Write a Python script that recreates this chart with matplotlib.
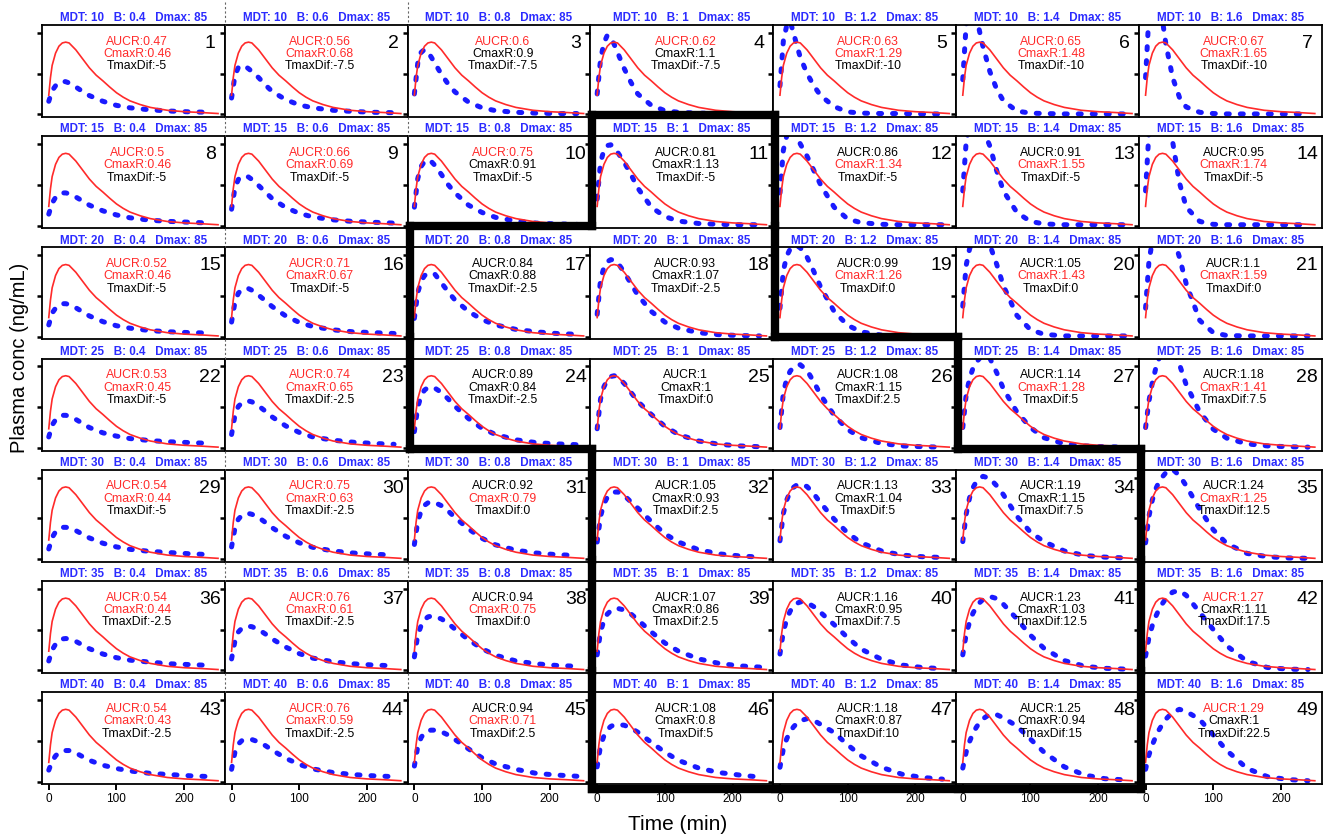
import matplotlib
matplotlib.use('Agg')
import matplotlib.pyplot as plt
from matplotlib.lines import Line2D

plt.rcParams['font.family'] = ['Liberation Sans', 'DejaVu Sans']

# rows = MDT, columns = Weibull shape B
mdt = [10, 15, 20, 25, 30, 35, 40]
b_shape = [0.4, 0.6, 0.8, 1, 1.2, 1.4, 1.6]
dmax = 85

aucr = [0.47, 0.56, 0.6, 0.62, 0.63, 0.65, 0.67,
        0.5, 0.66, 0.75, 0.81, 0.86, 0.91, 0.95,
        0.52, 0.71, 0.84, 0.93, 0.99, 1.05, 1.1,
        0.53, 0.74, 0.89, 1, 1.08, 1.14, 1.18,
        0.54, 0.75, 0.92, 1.05, 1.13, 1.19, 1.24,
        0.54, 0.76, 0.94, 1.07, 1.16, 1.23, 1.27,
        0.54, 0.76, 0.94, 1.08, 1.18, 1.25, 1.29]
cmaxr = [0.46, 0.68, 0.9, 1.1, 1.29, 1.48, 1.65,
         0.46, 0.69, 0.91, 1.13, 1.34, 1.55, 1.74,
         0.46, 0.67, 0.88, 1.07, 1.26, 1.43, 1.59,
         0.45, 0.65, 0.84, 1, 1.15, 1.28, 1.41,
         0.44, 0.63, 0.79, 0.93, 1.04, 1.15, 1.25,
         0.44, 0.61, 0.75, 0.86, 0.95, 1.03, 1.11,
         0.43, 0.59, 0.71, 0.8, 0.87, 0.94, 1]
tmaxdif = [-5, -7.5, -7.5, -7.5, -10, -10, -10,
           -5, -5, -5, -5, -5, -5, -5,
           -5, -5, -2.5, -2.5, 0, 0, 0,
           -5, -2.5, -2.5, 0, 2.5, 5, 7.5,
           -5, -2.5, 0, 2.5, 5, 7.5, 12.5,
           -2.5, -2.5, 0, 2.5, 7.5, 12.5, 17.5,
           -2.5, -2.5, 2.5, 5, 10, 15, 22.5]
# 1 = printed in red (outside limits)
aucr_out = [1, 1, 1, 1, 1, 1, 1,
            1, 1, 1, 0, 0, 0, 0,
            1, 1, 0, 0, 0, 0, 0,
            1, 1, 0, 0, 0, 0, 0,
            1, 1, 0, 0, 0, 0, 0,
            1, 1, 0, 0, 0, 0, 1,
            1, 1, 0, 0, 0, 0, 1]
cmaxr_out = [1, 1, 0, 0, 1, 1, 1,
             1, 1, 0, 0, 1, 1, 1,
             1, 1, 0, 0, 1, 1, 1,
             1, 1, 0, 0, 0, 1, 1,
             1, 1, 1, 0, 0, 0, 1,
             1, 1, 1, 0, 0, 0, 0,
             1, 1, 1, 0, 0, 0, 0]

# reference profile (red)
t_ref = [0, 2.5, 5, 10, 15, 20, 25, 30, 40, 50, 60, 70, 80, 90, 100, 110,
         120, 135, 150, 175, 200, 225, 250]
c_ref = [0.47, 0.90, 1.20, 1.50, 1.67, 1.75, 1.77, 1.75, 1.58, 1.36, 1.14,
         0.96, 0.82, 0.67, 0.53, 0.42, 0.33, 0.24, 0.17, 0.10, 0.065, 0.045, 0.02]

# test profiles (blue dotted)
t_test = [0, 5, 10, 15, 20, 25, 30, 40, 50, 60, 80, 100, 120, 150, 180, 210, 240]

test_mdt10 = [
    [0.32, 0.58, 0.70, 0.77, 0.81, 0.80, 0.77, 0.67, 0.56, 0.46, 0.32, 0.22, 0.16, 0.11, 0.08, 0.06, 0.05],
    [0.40, 0.95, 1.15, 1.20, 1.18, 1.12, 1.05, 0.90, 0.72, 0.56, 0.36, 0.23, 0.16, 0.10, 0.07, 0.05, 0.04],
    [0.50, 1.25, 1.52, 1.59, 1.53, 1.40, 1.26, 0.98, 0.74, 0.55, 0.30, 0.16, 0.09, 0.05, 0.03, 0.02, 0.02],
    [0.50, 1.35, 1.75, 1.94, 1.88, 1.72, 1.52, 1.12, 0.78, 0.50, 0.22, 0.09, 0.05, 0.03, 0.02, 0.02, 0.02],
    [0.70, 1.80, 2.18, 2.28, 2.00, 1.68, 1.40, 1.00, 0.70, 0.46, 0.19, 0.06, 0.03, 0.02, 0.02, 0.01, 0.01],
    [0.85, 2.20, 2.58, 2.62, 2.40, 2.02, 1.65, 1.05, 0.62, 0.33, 0.08, 0.03, 0.02, 0.01, 0.01, 0.01, 0.01],
    [0.90, 2.45, 2.85, 2.92, 2.75, 2.30, 1.72, 0.90, 0.42, 0.18, 0.05, 0.02, 0.01, 0.01, 0.01, 0.01, 0.01],
]
test_mdt15 = [
    [0.28, 0.55, 0.69, 0.77, 0.80, 0.80, 0.78, 0.70, 0.60, 0.50, 0.36, 0.26, 0.19, 0.13, 0.10, 0.08, 0.06],
    [0.40, 0.92, 1.13, 1.20, 1.22, 1.19, 1.13, 0.98, 0.82, 0.66, 0.44, 0.30, 0.21, 0.14, 0.10, 0.08, 0.06],
    [0.45, 1.15, 1.45, 1.57, 1.61, 1.57, 1.48, 1.25, 1.00, 0.80, 0.50, 0.32, 0.20, 0.11, 0.06, 0.04, 0.03],
    [0.65, 1.55, 1.85, 1.96, 1.98, 1.92, 1.80, 1.55, 1.25, 0.92, 0.45, 0.22, 0.11, 0.05, 0.03, 0.02, 0.02],
    [0.80, 1.85, 2.20, 2.34, 2.37, 2.20, 2.00, 1.70, 1.35, 1.00, 0.45, 0.16, 0.07, 0.03, 0.02, 0.02, 0.02],
    [0.85, 2.05, 2.45, 2.65, 2.74, 2.70, 2.35, 1.95, 1.35, 0.85, 0.32, 0.10, 0.04, 0.02, 0.02, 0.02, 0.02],
    [0.85, 2.30, 2.80, 3.00, 3.08, 3.00, 2.80, 2.05, 1.05, 0.45, 0.10, 0.03, 0.02, 0.02, 0.02, 0.02, 0.02],
]
test_mdt20 = [
    [0.29, 0.58, 0.70, 0.78, 0.81, 0.81, 0.79, 0.71, 0.61, 0.51, 0.37, 0.27, 0.21, 0.15, 0.12, 0.10, 0.09],
    [0.36, 0.85, 1.07, 1.15, 1.19, 1.18, 1.14, 1.02, 0.88, 0.74, 0.51, 0.35, 0.25, 0.17, 0.12, 0.10, 0.08],
    [0.45, 1.08, 1.36, 1.50, 1.55, 1.56, 1.54, 1.32, 1.10, 0.90, 0.62, 0.42, 0.29, 0.18, 0.12, 0.08, 0.06],
    [0.55, 1.40, 1.70, 1.84, 1.89, 1.88, 1.82, 1.58, 1.30, 1.02, 0.62, 0.36, 0.21, 0.10, 0.05, 0.03, 0.02],
    [0.70, 1.62, 1.98, 2.15, 2.21, 2.23, 2.18, 1.95, 1.60, 1.22, 0.62, 0.28, 0.12, 0.04, 0.02, 0.02, 0.02],
    [0.75, 1.75, 2.15, 2.38, 2.50, 2.53, 2.48, 2.25, 1.78, 1.25, 0.52, 0.17, 0.06, 0.02, 0.02, 0.02, 0.02],
    [0.70, 1.85, 2.35, 2.62, 2.77, 2.81, 2.75, 2.50, 1.95, 1.30, 0.40, 0.10, 0.03, 0.02, 0.02, 0.02, 0.02],
]
test_mdt25 = [
    [0.27, 0.56, 0.69, 0.77, 0.80, 0.80, 0.78, 0.70, 0.60, 0.50, 0.37, 0.29, 0.23, 0.18, 0.15, 0.13, 0.11],
    [0.33, 0.80, 1.02, 1.10, 1.14, 1.15, 1.13, 1.03, 0.90, 0.76, 0.54, 0.38, 0.27, 0.19, 0.14, 0.11, 0.09],
    [0.40, 1.00, 1.28, 1.42, 1.48, 1.49, 1.47, 1.36, 1.20, 1.02, 0.72, 0.48, 0.33, 0.20, 0.13, 0.10, 0.08],
    [0.47, 1.20, 1.50, 1.67, 1.75, 1.77, 1.75, 1.58, 1.36, 1.14, 0.82, 0.53, 0.33, 0.17, 0.09, 0.05, 0.03],
    [0.50, 1.35, 1.70, 1.88, 1.98, 2.03, 2.04, 1.90, 1.62, 1.30, 0.80, 0.45, 0.25, 0.11, 0.05, 0.03, 0.02],
    [0.50, 1.30, 1.70, 1.95, 2.10, 2.20, 2.26, 2.20, 1.85, 1.45, 0.88, 0.50, 0.25, 0.10, 0.05, 0.03, 0.02],
    [0.50, 1.15, 1.60, 1.95, 2.20, 2.40, 2.50, 2.40, 2.05, 1.55, 0.88, 0.46, 0.24, 0.10, 0.05, 0.03, 0.02],
]
test_mdt30 = [
    [0.25, 0.53, 0.67, 0.75, 0.78, 0.78, 0.77, 0.70, 0.61, 0.52, 0.39, 0.30, 0.24, 0.19, 0.16, 0.13, 0.11],
    [0.30, 0.76, 0.98, 1.07, 1.11, 1.12, 1.10, 1.02, 0.90, 0.77, 0.56, 0.40, 0.29, 0.20, 0.15, 0.12, 0.10],
    [0.36, 0.92, 1.18, 1.32, 1.38, 1.40, 1.39, 1.31, 1.18, 1.02, 0.74, 0.51, 0.35, 0.22, 0.15, 0.11, 0.09],
    [0.42, 1.05, 1.35, 1.52, 1.60, 1.64, 1.65, 1.56, 1.40, 1.25, 0.92, 0.62, 0.42, 0.23, 0.13, 0.08, 0.05],
    [0.45, 1.12, 1.45, 1.65, 1.76, 1.82, 1.84, 1.78, 1.60, 1.38, 0.98, 0.64, 0.40, 0.20, 0.10, 0.06, 0.04],
    [0.43, 1.10, 1.50, 1.75, 1.90, 1.98, 2.03, 1.98, 1.80, 1.58, 1.05, 0.66, 0.43, 0.20, 0.09, 0.05, 0.03],
    [0.40, 1.05, 1.45, 1.72, 1.90, 2.02, 2.12, 2.20, 2.05, 1.80, 1.22, 0.72, 0.38, 0.14, 0.06, 0.03, 0.02],
]
test_mdt35 = [
    [0.23, 0.50, 0.64, 0.73, 0.77, 0.78, 0.77, 0.71, 0.62, 0.53, 0.40, 0.31, 0.25, 0.20, 0.16, 0.14, 0.12],
    [0.28, 0.72, 0.94, 1.03, 1.07, 1.08, 1.07, 1.00, 0.89, 0.77, 0.57, 0.41, 0.30, 0.21, 0.16, 0.13, 0.11],
    [0.33, 0.86, 1.10, 1.24, 1.31, 1.33, 1.32, 1.26, 1.15, 1.01, 0.75, 0.53, 0.37, 0.23, 0.16, 0.12, 0.10],
    [0.38, 0.95, 1.22, 1.38, 1.46, 1.51, 1.52, 1.48, 1.38, 1.24, 0.94, 0.67, 0.47, 0.28, 0.17, 0.11, 0.08],
    [0.40, 0.95, 1.25, 1.45, 1.57, 1.64, 1.68, 1.66, 1.56, 1.42, 1.12, 0.80, 0.52, 0.27, 0.13, 0.07, 0.04],
    [0.38, 0.88, 1.18, 1.40, 1.55, 1.66, 1.74, 1.81, 1.76, 1.62, 1.26, 0.86, 0.54, 0.24, 0.10, 0.05, 0.03],
    [0.35, 0.80, 1.10, 1.32, 1.50, 1.64, 1.76, 1.92, 1.95, 1.84, 1.42, 1.00, 0.60, 0.22, 0.07, 0.03, 0.02],
]
test_mdt40 = [
    [0.28, 0.50, 0.63, 0.71, 0.75, 0.76, 0.76, 0.70, 0.61, 0.52, 0.40, 0.32, 0.26, 0.20, 0.17, 0.14, 0.12],
    [0.30, 0.72, 0.92, 1.00, 1.03, 1.04, 1.03, 0.97, 0.88, 0.77, 0.57, 0.42, 0.31, 0.22, 0.17, 0.14, 0.12],
    [0.38, 0.85, 1.08, 1.20, 1.25, 1.26, 1.26, 1.22, 1.14, 1.03, 0.80, 0.58, 0.43, 0.30, 0.20, 0.16, 0.13],
    [0.36, 0.88, 1.12, 1.27, 1.35, 1.39, 1.40, 1.38, 1.31, 1.21, 0.96, 0.72, 0.52, 0.33, 0.22, 0.16, 0.11],
    [0.35, 0.80, 1.05, 1.22, 1.34, 1.43, 1.49, 1.54, 1.50, 1.40, 1.20, 0.90, 0.63, 0.35, 0.18, 0.10, 0.06],
    [0.33, 0.72, 0.98, 1.18, 1.33, 1.45, 1.54, 1.65, 1.64, 1.56, 1.36, 1.04, 0.72, 0.36, 0.16, 0.07, 0.04],
    [0.30, 0.65, 0.90, 1.10, 1.27, 1.41, 1.53, 1.70, 1.77, 1.72, 1.52, 1.14, 0.76, 0.32, 0.12, 0.05, 0.02],
]
test_curves = test_mdt10 + test_mdt15 + test_mdt20 + test_mdt25 + test_mdt30 + test_mdt35 + test_mdt40

RED = '#ff2a2a'
BLUE = '#1a1aff'

W, H = 1326, 835
x0, pw = 42, 182.8
y0, ph, step = 25, 92, 111.2

fig = plt.figure(figsize=(W / 100, H / 100), dpi=100)

for k in range(49):
    r, c = divmod(k, 7)
    ax = fig.add_axes([(x0 + c * pw) / W, 1 - (y0 + r * step + ph) / H, pw / W, ph / H])
    ax.plot(t_test, test_curves[k], color=BLUE, lw=3.6,
            linestyle=(0, (0.6, 2.2)), dash_capstyle='round')
    ax.plot(t_ref, c_ref, color=RED, lw=1.2)
    ax.set_xlim(-10, 260)
    ax.set_ylim(-0.065, 2.19)
    ax.set_yticks([0, 1, 2])
    ax.set_yticklabels([])
    ax.tick_params(axis='y', length=3.5, width=1.8, direction='out')
    if r == 6:
        ax.set_xticks([0, 100, 200])
        ax.tick_params(axis='x', labelsize=8.5, length=4, width=1.4, pad=2)
    else:
        ax.set_xticks([])
    for s in ax.spines.values():
        s.set_linewidth(1.3)

    ax.text(0.5, 1.075, f'MDT: {mdt[r]}   B: {b_shape[c]:g}   Dmax: {dmax}',
            transform=ax.transAxes, ha='center', va='center', fontsize=8.4,
            fontweight='bold', color='#2b2bff', clip_on=False)
    ax.text(0.52, 0.82, f'AUCR:{aucr[k]:g}', transform=ax.transAxes, ha='center',
            va='center', fontsize=8.8, color=RED if aucr_out[k] else 'black')
    ax.text(0.52, 0.685, f'CmaxR:{cmaxr[k]:g}', transform=ax.transAxes, ha='center',
            va='center', fontsize=8.8, color=RED if cmaxr_out[k] else 'black')
    ax.text(0.52, 0.55, f'TmaxDif:{tmaxdif[k]:g}', transform=ax.transAxes, ha='center',
            va='center', fontsize=8.8, color='black')
    ax.text(0.92, 0.80, str(k + 1), transform=ax.transAxes, ha='center',
            va='center', fontsize=14)

# dashed separators in the title strips
for r in range(7):
    top = y0 + r * step
    prev = top - step + ph if r > 0 else 2
    for c in (1, 2):
        xx = (x0 + c * pw) / W
        fig.add_artist(Line2D([xx, xx], [1 - prev / H, 1 - top / H], transform=fig.transFigure,
                              color='#666666', lw=0.8, linestyle=(0, (2, 2))))

# thick outline around the panels where both ratios are inside limits
inside = [[not (aucr_out[r * 7 + c] or cmaxr_out[r * 7 + c]) for c in range(7)] for r in range(7)]
hlines = [y0 - 20] + [y0 + r * step + ph - 2 for r in range(6)] + [y0 + 6 * step + ph + 5]
vlines = [x0 + c * pw + 2 for c in range(8)]


def is_in(r, c):
    return 0 <= r < 7 and 0 <= c < 7 and inside[r][c]


def box_line(xa, xb, ya, yb):
    fig.add_artist(Line2D([xa / W, xb / W], [1 - ya / H, 1 - yb / H], transform=fig.transFigure,
                          color='black', lw=6, solid_capstyle='projecting', zorder=10))


for r in range(7):
    for c in range(7):
        if not inside[r][c]:
            continue
        if not is_in(r - 1, c):
            box_line(vlines[c], vlines[c + 1], hlines[r], hlines[r])
        if not is_in(r + 1, c):
            box_line(vlines[c], vlines[c + 1], hlines[r + 1], hlines[r + 1])
        if not is_in(r, c - 1):
            box_line(vlines[c], vlines[c], hlines[r], hlines[r + 1])
        if not is_in(r, c + 1):
            box_line(vlines[c + 1], vlines[c + 1], hlines[r], hlines[r + 1])

fig.text(20 / W, 1 - 358 / H, 'Plasma conc (ng/mL)', rotation=90, fontsize=14.5,
         ha='center', va='center')
fig.text(678 / W, 1 - 824 / H, 'Time (min)', fontsize=15, ha='center', va='center')

fig.savefig('out.png', dpi=100)
